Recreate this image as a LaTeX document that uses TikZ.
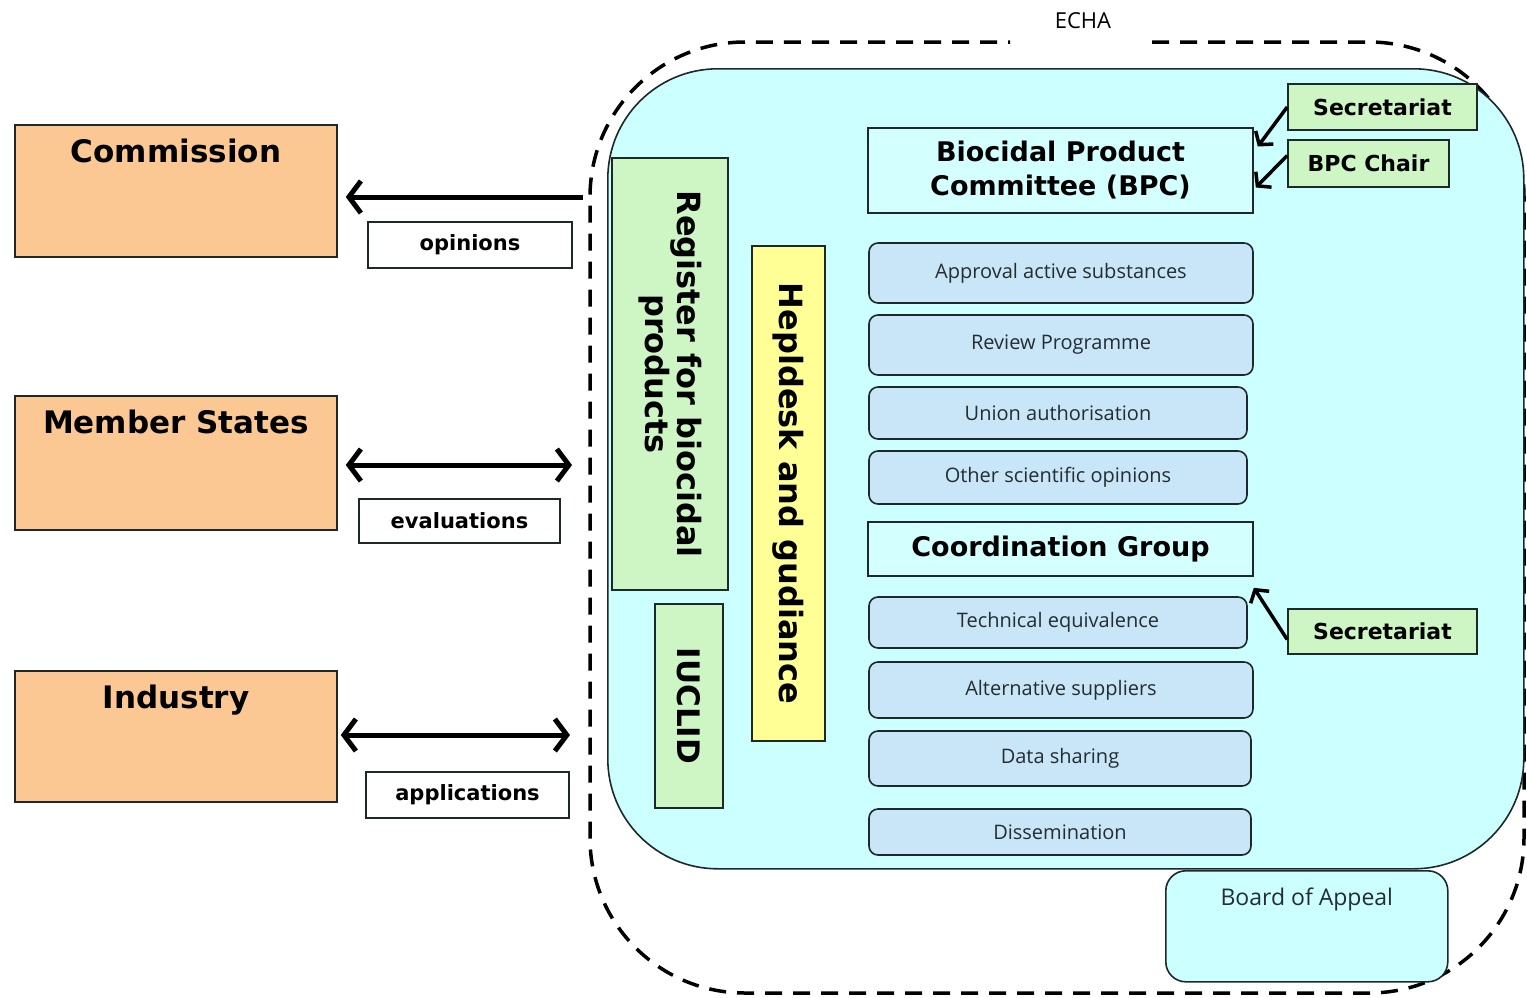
\documentclass[tikz,border=0pt]{standalone}
\usepackage{fontspec}
\setmainfont{DejaVu Sans}
\newfontfamily\segoe{Open Sans}
\usetikzlibrary{arrows.meta}
\definecolor{orangefill}{RGB}{251,200,148}
\definecolor{echafill}{RGB}{204,255,255}
\definecolor{bpcfill}{RGB}{212,255,255}
\definecolor{greenfill}{RGB}{206,245,196}
\definecolor{yellowfill}{RGB}{255,255,150}
\definecolor{taskfill}{RGB}{200,230,248}
\definecolor{edge}{RGB}{30,40,40}
\definecolor{tasktext}{RGB}{35,45,50}
\tikzset{
  boxline/.style={draw=edge, line width=1.6pt},
  party/.style={boxline, fill=orangefill, minimum width=322pt, inner sep=0pt},
  partytext/.style={anchor=north, inner sep=0pt, yshift=-15pt, font=\bfseries\fontsize{31}{36}\selectfont},
  flowlabel/.style={boxline, fill=white, inner sep=0pt, font=\bfseries\fontsize{21}{25}\selectfont},
  greenbox/.style={boxline, fill=greenfill, inner sep=0pt},
  headbox/.style={boxline, fill=bpcfill, inner sep=0pt, align=center, font=\bfseries\fontsize{27}{34}\selectfont},
  task/.style={boxline, fill=taskfill, rounded corners=9pt, inner sep=0pt, text=tasktext, font=\segoe\fontsize{20}{24}\selectfont},
  smallgreen/.style={greenbox, font=\bfseries\fontsize{22}{26}\selectfont},
  bigarrow/.style={line width=5pt, -{Straight Barb[length=12pt,width=32pt]}},
  bigdouble/.style={line width=5pt, {Straight Barb[length=12pt,width=32pt]}-{Straight Barb[length=12pt,width=32pt]}},
  thinarrow/.style={line width=3.5pt, -{Straight Barb[length=9pt,width=22pt]}},
}
\begin{document}
\begin{tikzpicture}[x=1pt,y=-1pt]
\useasboundingbox (0,0) rectangle (1527,997);
\fill[white] (0,0) rectangle (1527,997);

% ECHA dashed frame
\draw[line width=3.5pt, dash pattern=on 17pt off 11pt, rounded corners=155pt]
  (1152,42) -- (1524,42) -- (1524,993) -- (590,993) -- (590,42) -- (1010,42);
\node[font=\segoe\fontsize{22}{26}\selectfont, inner sep=0pt] (echalabel) at (1083,21) {ECHA};

% inner ECHA body
\node[boxline, fill=echafill, rounded corners=110pt, minimum width=916pt, minimum height=800pt, anchor=north west, inner sep=0pt] (echa) at (607,68) {};

% Board of Appeal
\node[boxline, fill=echafill, rounded corners=20pt, minimum width=282pt, minimum height=111pt, anchor=north west, inner sep=0pt,
  label={[anchor=north, inner sep=0pt, yshift=-18pt, text=tasktext, font=\segoe\fontsize{23}{27}\selectfont]north:Board of Appeal}] (boa) at (1165,870) {};

% parties
\node[party, minimum height=132pt, label={[partytext]north:Commission}] (comm) at (176,191) {};
\node[party, minimum height=134pt, label={[partytext]north:Member States}] (ms) at (176,463) {};
\node[party, minimum height=131pt, label={[partytext]north:Industry}] (ind) at (176,736.5) {};

% flow labels
\node[flowlabel, minimum width=204pt, minimum height=46pt] (opin) at (470,245) {opinions};
\node[flowlabel, minimum width=201pt, minimum height=44pt] (eval) at (459.5,521) {evaluations};
\node[flowlabel, minimum width=203pt, minimum height=46pt] (appl) at (467.5,795) {applications};

% arrows between parties and ECHA
\coordinate (commstart) at (583,197);
\coordinate (msend) at (572,465);
\coordinate (indend) at (570,735);
\draw[bigarrow, shorten >=8pt] (commstart) -- (commstart -| comm.east);
\draw[bigdouble, shorten <=8pt] (msend -| ms.east) -- (msend);
\draw[bigdouble, shorten <=3pt] (indend -| ind.east) -- (indend);

% vertical boxes
\node[greenbox, rotate=-90, minimum width=432pt, minimum height=116pt, align=center,
  font=\bfseries\fontsize{32}{31}\selectfont] (reg) at (670,374) {Register for biocidal\\products};
\node[greenbox, rotate=-90, minimum width=204pt, minimum height=68pt,
  font=\bfseries\fontsize{31}{34}\selectfont] (iuclid) at (689,706) {IUCLID};
\node[boxline, fill=yellowfill, inner sep=0pt, rotate=-90, minimum width=495pt, minimum height=73pt,
  font=\bfseries\fontsize{32}{34}\selectfont] (help) at (788.5,493.5) {Hepldesk and gudiance};

% BPC
\node[headbox, minimum width=385pt, minimum height=85pt] (bpc) at (1060.5,170.5) {Biocidal Product\\Committee (BPC)};
\node[smallgreen, minimum width=189pt, minimum height=46pt] (sec1) at (1382.5,107) {Secretariat};
\node[smallgreen, minimum width=161pt, minimum height=47pt] (chair) at (1368.5,163.5) {BPC Chair};
\draw[thinarrow] (sec1.west) -- ([xshift=4pt, yshift=24pt]bpc.east);
\draw[thinarrow] ([yshift=8pt]chair.west) -- ([xshift=2pt, yshift=-17pt]bpc.east);

% BPC tasks
\node[task, minimum width=384pt, minimum height=60pt] (appr) at (1061,273) {Approval active substances};
\node[task, minimum width=384pt, minimum height=60pt] (rev) at (1061,345) {Review Programme};
\node[task, minimum width=378pt, minimum height=52pt] (union) at (1058,413) {Union authorisation};
\node[task, minimum width=378pt, minimum height=53pt] (other) at (1058,477.5) {Other scientific opinions};

% Coordination group
\node[headbox, minimum width=385pt, minimum height=54pt] (coord) at (1060.5,549) {Coordination Group};
\node[smallgreen, minimum width=189pt, minimum height=45pt] (sec2) at (1382.5,631.5) {Secretariat};
\draw[thinarrow] ([yshift=-8pt]sec2.west) -- ([yshift=-11pt]coord.south east);

\node[task, minimum width=378pt, minimum height=51pt] (tech) at (1058,622.5) {Technical equivalence};
\node[task, minimum width=384pt, minimum height=56pt] (alt) at (1061,690) {Alternative suppliers};
\node[task, minimum width=382pt, minimum height=55pt] (data) at (1060,758.5) {Data sharing};
\node[task, minimum width=382pt, minimum height=46pt] (diss) at (1060,832) {Dissemination};
\end{tikzpicture}
\end{document}
